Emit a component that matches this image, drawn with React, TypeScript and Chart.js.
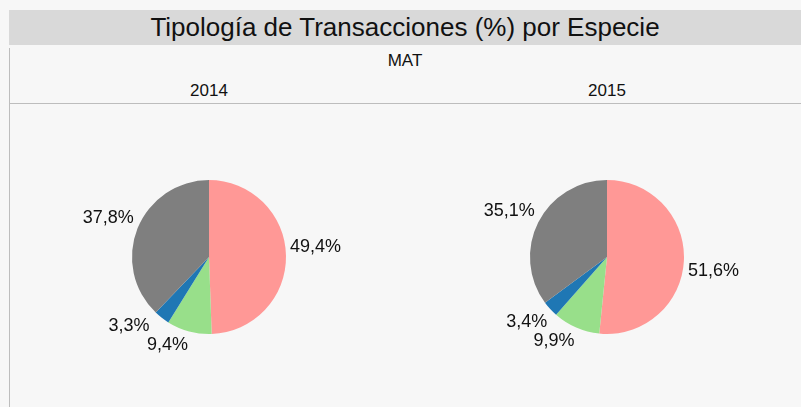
import React, { useEffect, useRef } from "react";
import { Chart, registerables } from "chart.js";

Chart.register(...registerables);

const categories = ["Categoría 1", "Categoría 2", "Categoría 3", "Categoría 4"];
const years = ["2014", "2015"];
const values2014 = [49.4, 9.4, 3.3, 37.8];
const values2015 = [51.6, 9.9, 3.4, 35.1];
const seriesByYear = [values2014, values2015];
const colors = ["#ff9896", "#98df8a", "#1f77b4", "#7f7f7f"];

const FONT = '"Liberation Sans", Arial, sans-serif';
const LABEL_SIZE = 18;

type Box = { x: number; y: number; w: number; h: number };

function overlaps(a: Box, b: Box) {
  return a.x < b.x + b.w && b.x < a.x + a.w && a.y < b.y + b.h && b.y < a.y + a.h;
}

const outsideLabels = {
  id: "outsideLabels",
  afterDatasetsDraw(chart: any) {
    const ctx = chart.ctx;
    const meta = chart.getDatasetMeta(0);
    const data = chart.data.datasets[0].data as number[];
    ctx.save();
    ctx.font = `${LABEL_SIZE}px ${FONT}`;
    ctx.fillStyle = "#111";
    ctx.textAlign = "left";
    ctx.textBaseline = "top";
    const placed: Box[] = [];
    meta.data.forEach((arc: any, i: number) => {
      const p = arc.getProps(["x", "y", "startAngle", "endAngle", "outerRadius"], true);
      const mid = (p.startAngle + p.endAngle) / 2;
      const dx = Math.cos(mid);
      const dy = Math.sin(mid);
      const r = p.outerRadius + 4;
      const ax = p.x + dx * r;
      const ay = p.y + dy * r;
      const txt = data[i].toFixed(1).replace(".", ",") + "%";
      const w = ctx.measureText(txt).width;
      const h = LABEL_SIZE + 1;
      const box: Box = {
        x: dx >= 0 ? ax : ax - w,
        y: dy > 0.03 ? ay : ay - h,
        w,
        h,
      };
      for (let iter = 0; iter < 200; iter++) {
        const hit = placed.find((b) => overlaps(box, b));
        if (!hit) break;
        let vx = box.x + box.w / 2 - (hit.x + hit.w / 2);
        let vy = box.y + box.h / 2 - (hit.y + hit.h / 2);
        const len = Math.hypot(vx, vy) || 1;
        box.x += (vx / len) * 0.5;
        box.y += (vy / len) * 0.5;
      }
      placed.push(box);
      ctx.fillText(txt, box.x, box.y + 1);
    });
    ctx.restore();
  },
};

function PieChart({ values }: { values: number[] }) {
  const ref = useRef<HTMLCanvasElement | null>(null);
  useEffect(() => {
    if (!ref.current) return;
    const chart = new Chart(ref.current, {
      type: "pie",
      data: {
        labels: categories,
        datasets: [
          {
            data: values,
            backgroundColor: colors,
            borderWidth: 0,
          },
        ],
      },
      options: {
        animation: false,
        responsive: false,
        maintainAspectRatio: false,
        devicePixelRatio: 1,
        layout: { padding: { top: 43, bottom: 43, left: 93, right: 93 } },
        plugins: {
          legend: { display: false },
          tooltip: { enabled: false },
        },
      },
      plugins: [outsideLabels],
    });
    return () => chart.destroy();
  }, [values]);
  return <canvas ref={ref} width={340} height={240} style={{ width: 340, height: 240, display: "block" }} />;
}

export default function App() {
  const pieCenters = [209, 607];
  return (
    <div
      style={{
        position: "fixed",
        left: 0,
        top: 0,
        width: 801,
        height: 407,
        background: "#f7f7f7",
        fontFamily: FONT,
        color: "#111",
        overflow: "hidden",
      }}
    >
      <div
        style={{
          position: "absolute",
          left: 9,
          top: 10,
          width: 792,
          height: 35,
          lineHeight: "35px",
          background: "#d9d9d9",
          textAlign: "center",
          fontSize: 26,
        }}
      >
        Tipología de Transacciones (%) por Especie
      </div>
      <div style={{ position: "absolute", left: 9, top: 48, width: 1, height: 359, background: "#bdbdbd" }} />
      <div style={{ position: "absolute", left: 9, top: 103, width: 792, height: 1, background: "#bdbdbd" }} />
      <div
        style={{
          position: "absolute",
          left: 9,
          top: 49,
          width: 792,
          height: 24,
          lineHeight: "24px",
          textAlign: "center",
          fontSize: 17,
        }}
      >
        MAT
      </div>
      {years.map((y, i) => (
        <div
          key={y}
          style={{
            position: "absolute",
            left: pieCenters[i] - 100,
            top: 79,
            width: 200,
            height: 24,
            lineHeight: "24px",
            textAlign: "center",
            fontSize: 17,
          }}
        >
          {y}
        </div>
      ))}
      {seriesByYear.map((vals, i) => (
        <div key={i} style={{ position: "absolute", left: pieCenters[i] - 170, top: 137 }}>
          <PieChart values={vals} />
        </div>
      ))}
    </div>
  );
}
